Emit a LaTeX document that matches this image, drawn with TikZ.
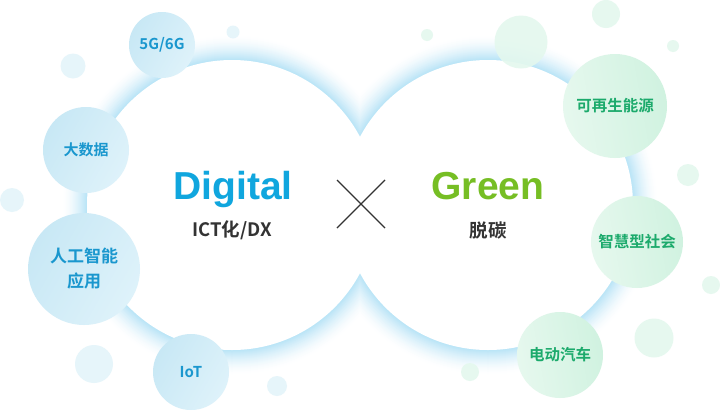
\documentclass[tikz,border=0pt]{standalone}
\usepackage{fontspec}
\setmainfont{Liberation Sans}
\newfontfamily\cjk{Noto Sans CJK SC}[BoldFont={Noto Sans CJK SC Bold}]
\newfontfamily\lat{Liberation Sans}
\definecolor{glowc}{HTML}{B6E3F6}
\definecolor{bubA}{HTML}{C8E8F5}
\definecolor{bubB}{HTML}{DEF2FA}
\definecolor{grnA}{HTML}{E6F8EE}
\definecolor{grnB}{HTML}{D0F2E0}
\definecolor{smallb}{HTML}{E4F4FA}
\definecolor{smallg}{HTML}{E4F8EE}
\definecolor{txtb}{HTML}{1A97CE}
\definecolor{txtg}{HTML}{1CAA6C}
\definecolor{digc}{HTML}{10A6DE}
\definecolor{grec}{HTML}{76BE24}
\definecolor{darkt}{HTML}{333333}
\tikzset{
  bluebub/.style={circle,inner sep=0pt,left color=bubA,right color=bubB,shading angle=60,text=txtb,font=\cjk\bfseries\fontsize{15}{19}\selectfont,align=center},
  greenbub/.style={circle,inner sep=0pt,left color=grnA,right color=grnB,shading angle=100,text=txtg,font=\cjk\bfseries\fontsize{15.5}{19}\selectfont,align=center},
  sb/.style={fill=smallb,fill opacity=0.9},
  sg/.style={fill=smallg,fill opacity=0.9},
  crossline/.style={draw=darkt,line width=1.3pt}
}
\begin{document}
\begin{tikzpicture}[x=1pt,y=-1pt]
\useasboundingbox (0,0) rectangle (720,410);
\clip (0,0) rectangle (720,410);
\fill[white] (0,0) rectangle (720,410);
% glow around the two circles
\foreach \d in {24,23,...,1}{
  \pgfmathsetmacro\p{100*(1-\d/25)^1.6}
  \colorlet{gl}{glowc!\p!white}
  \fill[gl] (232,205) circle ({145+\d});
  \fill[gl] (488,205) circle ({145+\d});
}
\coordinate (cl) at (232,205);
\coordinate (cr) at (488,205);
\fill[white] (cl) circle (145);
\fill[white] (cr) circle (145);
% small background bubbles
\fill[sb] (73,66) circle (12.5);
\fill[sb] (233,32) circle (6.5);
\fill[sb] (12,200) circle (12);
\fill[sb] (94,364) circle (19);
\fill[sb] (277,386) circle (10);
\fill[sg] (521,42) circle (26.5);
\fill[sg] (606,14) circle (14);
\fill[sg] (427,35) circle (6);
\fill[sg] (673,46) circle (6);
\fill[sg] (688,175) circle (11);
\fill[sg] (711,285) circle (9);
\fill[sg] (654,338) circle (19.5);
\fill[sg] (470,372) circle (9);
% bubbles
\node[bluebub,minimum size=66pt] (g5) at (162,45) {5G/6G};
\node[bluebub,minimum size=86pt] (bd) at (86,150) {大数据};
\node[bluebub,minimum size=112pt,font=\cjk\bfseries\fontsize{17}{25}\selectfont] (ai) at (84,269) {人工智能\\应用};
\node[bluebub,minimum size=76pt] (iot) at (191,372) {IoT};
\node[greenbub,minimum size=104pt] (re) at (615,106) {可再生能源};
\node[greenbub,minimum size=92pt] (ss) at (637,242) {智慧型社会};
\node[greenbub,minimum size=86pt] (ev) at (560,355) {电动汽车};
% titles
\node[text=digc,font=\lat\bfseries\fontsize{39}{40}\selectfont,inner sep=0pt,anchor=base] (dig) at (233,199) {Digital};
\node[text=darkt,font=\cjk\bfseries\fontsize{18.5}{20}\selectfont,inner sep=0pt] (ict) at (232,230) {ICT化/DX};
\node[text=grec,font=\lat\bfseries\fontsize{39}{40}\selectfont,inner sep=0pt,anchor=base] (gre) at (488,199) {Green};
\node[text=darkt,font=\cjk\bfseries\fontsize{18.5}{20}\selectfont,inner sep=0pt] (dc) at (488,230) {脱碳};
% cross
\coordinate (x1) at (337,180);
\coordinate (x2) at (385,228);
\coordinate (x3) at (385,180);
\coordinate (x4) at (337,228);
\draw[crossline] (x1) -- (x2);
\draw[crossline] (x3) -- (x4);
\end{tikzpicture}
\end{document}
